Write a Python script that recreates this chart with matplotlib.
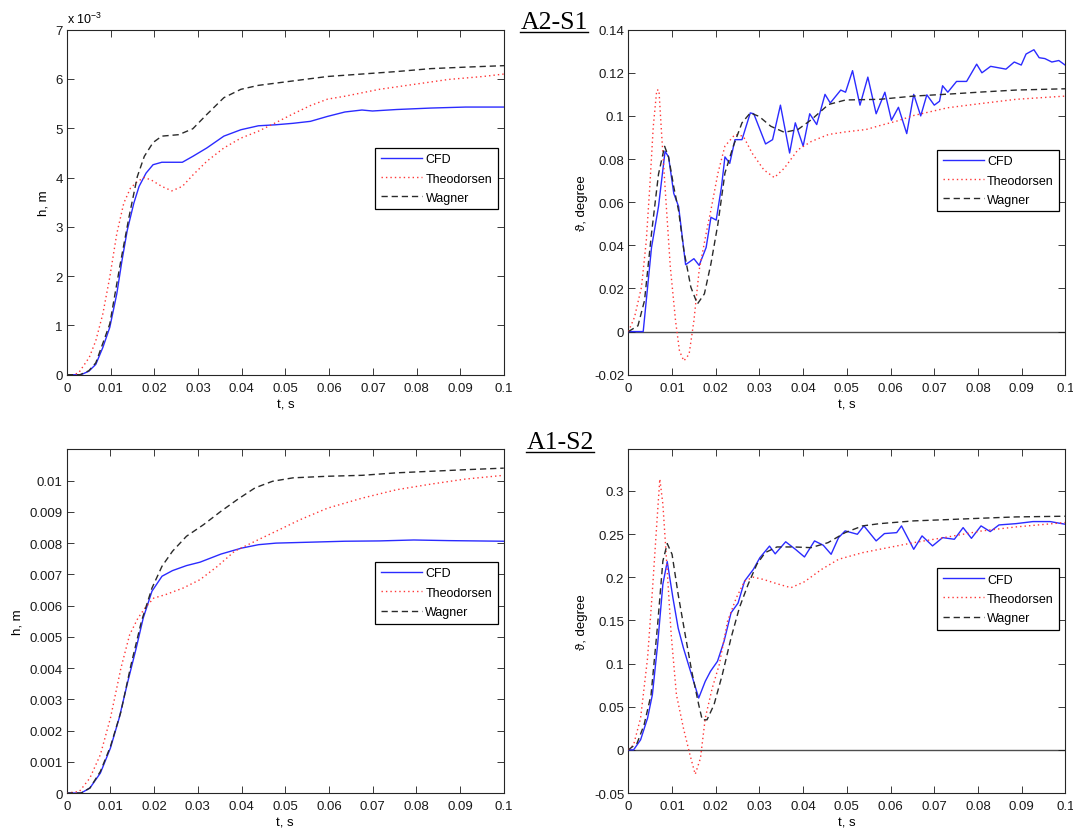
import numpy as np
import matplotlib
matplotlib.use("Agg")
import matplotlib.pyplot as plt
from matplotlib.lines import Line2D

plt.rcParams['font.family'] = ['Liberation Sans', 'DejaVu Sans']
plt.rcParams['mathtext.fontset'] = 'custom'
plt.rcParams['mathtext.rm'] = 'Liberation Sans'
plt.rcParams['mathtext.it'] = 'Liberation Sans:italic'

# ---------------- data ----------------
series_names = ['CFD', 'Theodorsen', 'Wagner']
xtick_vals = [0, 0.01, 0.02, 0.03, 0.04, 0.05, 0.06, 0.07, 0.08, 0.09, 0.1]
xtick_labels = ['0', '0.01', '0.02', '0.03', '0.04', '0.05', '0.06', '0.07', '0.08', '0.09', '0.1']

# A2-S1, heave h (m)
a2_h_cfd_t = [0, 0.0032, 0.005, 0.0066, 0.0082, 0.0098, 0.0114, 0.0126, 0.0138, 0.0153, 0.0165, 0.0181, 0.0197,
              0.0217, 0.024, 0.0264, 0.0288, 0.032, 0.0359, 0.0398, 0.0438, 0.0477, 0.0517, 0.0557, 0.0596,
              0.0636, 0.0675, 0.0699, 0.0754, 0.0833, 0.0912, 0.1]
a2_h_cfd = [0, 0, 0.00007, 0.00021, 0.00055, 0.00096, 0.00164, 0.00232, 0.00293, 0.00348, 0.00382, 0.00409, 0.00426,
            0.00431, 0.00431, 0.00431, 0.00443, 0.0046, 0.00484, 0.00497, 0.00505, 0.00507, 0.0051, 0.00514, 0.00524,
            0.00533, 0.00537, 0.00535, 0.00538, 0.00541, 0.00543, 0.00543]
a2_h_theo_t = [0, 0.0015, 0.0027, 0.0051, 0.0066, 0.0082, 0.0098, 0.0114, 0.013, 0.0145, 0.0161, 0.0177, 0.0193,
               0.0217, 0.024, 0.0264, 0.0288, 0.032, 0.0359, 0.0398, 0.0438, 0.0477, 0.0517, 0.0557, 0.0596,
               0.0636, 0.0715, 0.0794, 0.0873, 0.0952, 0.1]
a2_h_theo = [0, 0, 0.00004, 0.00035, 0.00069, 0.00123, 0.00198, 0.00286, 0.00348, 0.00378, 0.00392, 0.004, 0.00395,
             0.00382, 0.00373, 0.00382, 0.00405, 0.00433, 0.0046, 0.0048, 0.00494, 0.00511, 0.00529, 0.00546, 0.00559,
             0.00565, 0.00579, 0.00589, 0.00599, 0.00605, 0.0061]
a2_h_wag_t = [0, 0.003, 0.005, 0.0066, 0.0098, 0.0122, 0.0142, 0.0161, 0.0177, 0.0197, 0.0217, 0.0256, 0.0288, 0.032,
              0.0359, 0.0398, 0.0438, 0.0517, 0.0596, 0.0675, 0.0754, 0.0833, 0.0912, 0.1]
a2_h_wag = [0, 0, 0.00008, 0.00024, 0.00103, 0.00225, 0.0032, 0.00402, 0.00443, 0.00471, 0.00484, 0.00487, 0.00499,
            0.00528, 0.00562, 0.00579, 0.00587, 0.00596, 0.00605, 0.0061, 0.00615, 0.00621, 0.00624, 0.00627]

# A2-S1, pitch (degree)
a2_p_cfd_t = [0, 0.0034, 0.0053, 0.0069, 0.0084, 0.0092, 0.0104, 0.0115, 0.0131, 0.015, 0.0162, 0.0178, 0.0189,
              0.0201, 0.0213, 0.0221, 0.0232, 0.0244, 0.026, 0.0279, 0.0287, 0.0314, 0.033, 0.0348, 0.0369, 0.0382,
              0.04, 0.0415, 0.0431, 0.045, 0.0462, 0.0486, 0.0497, 0.0513, 0.053, 0.0548, 0.0567, 0.0587, 0.0602,
              0.0618, 0.0637, 0.0653, 0.0669, 0.0683, 0.07, 0.0712, 0.0719, 0.0731, 0.0751, 0.0774, 0.0797, 0.0809,
              0.0829, 0.0864, 0.0883, 0.0899, 0.091, 0.0928, 0.094, 0.0953, 0.0969, 0.0985, 0.1]
a2_p_cfd = [0, 0, 0.039, 0.058, 0.0836, 0.081, 0.064, 0.058, 0.031, 0.0338, 0.0307, 0.039, 0.053, 0.0517, 0.067,
            0.081, 0.078, 0.089, 0.089, 0.1014, 0.101, 0.087, 0.089, 0.105, 0.0828, 0.0968, 0.086, 0.101, 0.096,
            0.110, 0.106, 0.112, 0.111, 0.121, 0.105, 0.118, 0.101, 0.111, 0.098, 0.104, 0.0918, 0.110, 0.100,
            0.1098, 0.105, 0.1068, 0.114, 0.111, 0.116, 0.116, 0.124, 0.120, 0.123, 0.1217, 0.125, 0.1236, 0.1287,
            0.1307, 0.127, 0.1266, 0.125, 0.1257, 0.1235]
a2_p_theo_t = [0, 0.0014, 0.003, 0.0041, 0.0049, 0.0057, 0.0065, 0.007, 0.0076, 0.0084, 0.0096, 0.0108, 0.0117,
               0.0127, 0.0139, 0.015, 0.0162, 0.0178, 0.0189, 0.0205, 0.0221, 0.0244, 0.0263, 0.0283, 0.031, 0.0334,
               0.0357, 0.0388, 0.0419, 0.0458, 0.0497, 0.0544, 0.0575, 0.0614, 0.0653, 0.0731, 0.0809, 0.0887, 0.1]
a2_p_theo = [0, 0.0066, 0.0206, 0.042, 0.067, 0.095, 0.112, 0.112, 0.092, 0.067, 0.030, 0.005, -0.009, -0.0136,
             -0.0105, 0.005, 0.0284, 0.0455, 0.0564, 0.0735, 0.086, 0.0914, 0.0906, 0.0828, 0.075, 0.0714, 0.0758,
             0.0843, 0.0882, 0.0914, 0.0926, 0.0937, 0.0955, 0.0976, 0.1002, 0.1038, 0.1058, 0.1077, 0.1092]
a2_p_wag_t = [0, 0.0022, 0.0037, 0.0053, 0.0069, 0.0083, 0.0092, 0.0104, 0.0115, 0.0127, 0.0143, 0.0158, 0.0174,
              0.0189, 0.0205, 0.0221, 0.024, 0.026, 0.0279, 0.0299, 0.0326, 0.0357, 0.0388, 0.0419, 0.0458, 0.0497,
              0.0575, 0.0653, 0.0731, 0.0809, 0.0887, 0.1]
a2_p_wag = [0, 0.0027, 0.0144, 0.0455, 0.073, 0.0859, 0.081, 0.067, 0.056, 0.0377, 0.0206, 0.0128, 0.0175, 0.0315,
            0.050, 0.0735, 0.0859, 0.0968, 0.1014, 0.0998, 0.0952, 0.0924, 0.0937, 0.0983, 0.1053, 0.1074, 0.1077,
            0.1092, 0.1101, 0.1111, 0.112, 0.1126]

# A1-S2, heave h (m)
a1_h_cfd_t = [0, 0.0033, 0.0053, 0.0077, 0.01, 0.012, 0.014, 0.0159, 0.0175, 0.0195, 0.0218, 0.0242, 0.0274, 0.0305,
              0.0353, 0.04, 0.0439, 0.0479, 0.0558, 0.0636, 0.0715, 0.0794, 0.0873, 0.1]
a1_h_cfd = [0, 0, 0.00016, 0.00064, 0.00144, 0.0024, 0.00358, 0.00464, 0.0056, 0.00646, 0.00694, 0.00712, 0.00728,
            0.00739, 0.00765, 0.00784, 0.00795, 0.008, 0.00803, 0.00806, 0.00807, 0.0081, 0.00808, 0.00806]
a1_h_theo_t = [0, 0.0029, 0.0053, 0.0077, 0.01, 0.0124, 0.0144, 0.0163, 0.0179, 0.0199, 0.0226, 0.0266, 0.0305,
               0.0345, 0.0384, 0.0431, 0.0479, 0.0534, 0.0597, 0.0676, 0.0755, 0.0834, 0.0912, 0.1]
a1_h_theo = [0, 0.00005, 0.00048, 0.00123, 0.0024, 0.004, 0.00507, 0.0056, 0.00592, 0.00624, 0.00635, 0.00656,
             0.00683, 0.00726, 0.00774, 0.00806, 0.00838, 0.00875, 0.00912, 0.00944, 0.00971, 0.00989, 0.01005,
             0.01017]
a1_h_wag_t = [0, 0.0033, 0.0053, 0.0077, 0.01, 0.0124, 0.0147, 0.0171, 0.0195, 0.0218, 0.0242, 0.0274, 0.0313,
              0.0353, 0.0392, 0.0431, 0.0471, 0.0518, 0.0597, 0.0676, 0.0755, 0.0834, 0.0912, 0.1]
a1_h_wag = [0, 0, 0.00016, 0.00069, 0.00149, 0.0026, 0.0041, 0.0055, 0.00656, 0.00726, 0.00774, 0.00822, 0.00859,
            0.00902, 0.00941, 0.00977, 0.00998, 0.01009, 0.01014, 0.01017, 0.01025, 0.0103, 0.01035, 0.0104]

# A1-S2, pitch (degree)
a1_p_cfd_t = [0, 0.0012, 0.0028, 0.0044, 0.0055, 0.0067, 0.0079, 0.0089, 0.0102, 0.0114, 0.0126, 0.0141, 0.0161,
              0.0176, 0.0188, 0.0204, 0.0219, 0.0235, 0.0251, 0.0266, 0.0286, 0.0301, 0.0323, 0.0336, 0.036, 0.0383,
              0.0403, 0.0426, 0.0446, 0.0464, 0.0481, 0.0496, 0.0524, 0.0539, 0.0567, 0.0586, 0.0614, 0.0625, 0.0641,
              0.0653, 0.0672, 0.0696, 0.0719, 0.0746, 0.0766, 0.0785, 0.0807, 0.0828, 0.0848, 0.0887, 0.0926,
              0.0965, 0.1]
a1_p_cfd = [0, 0, 0.0116, 0.0368, 0.0639, 0.122, 0.192, 0.218, 0.176, 0.141, 0.118, 0.093, 0.060, 0.0794, 0.091,
            0.1026, 0.1258, 0.1587, 0.170, 0.1955, 0.209, 0.2226, 0.236, 0.227, 0.241, 0.232, 0.2234, 0.242, 0.237,
            0.2265, 0.2458, 0.2536, 0.2497, 0.2594, 0.242, 0.2505, 0.2516, 0.2594, 0.2439, 0.2323, 0.2478, 0.2362,
            0.2458, 0.2439, 0.2574, 0.245, 0.2594, 0.2528, 0.2605, 0.262, 0.2644, 0.2644, 0.2613]
a1_p_theo_t = [0, 0.0012, 0.0028, 0.0044, 0.0055, 0.0066, 0.0072, 0.0079, 0.0089, 0.0098, 0.011, 0.0126, 0.0141,
               0.0153, 0.0165, 0.0176, 0.0192, 0.0208, 0.0227, 0.0247, 0.0266, 0.0286, 0.0309, 0.034, 0.0372, 0.0403,
               0.0442, 0.0481, 0.0536, 0.0575, 0.0653, 0.0731, 0.0809, 0.0887, 0.1]
a1_p_theo = [0, 0.0058, 0.0368, 0.1065, 0.184, 0.269, 0.3136, 0.2846, 0.207, 0.1336, 0.0639, 0.0252, -0.0058,
             -0.0283, -0.0097, 0.0368, 0.0716, 0.0987, 0.149, 0.176, 0.1955, 0.2, 0.1974, 0.1924, 0.1878, 0.1947,
             0.209, 0.2207, 0.2284, 0.2323, 0.24, 0.2466, 0.2536, 0.2582, 0.2633]
a1_p_wag_t = [0, 0.002, 0.0036, 0.0052, 0.0067, 0.0079, 0.0089, 0.01, 0.0114, 0.013, 0.0145, 0.0161, 0.0169, 0.018,
              0.0196, 0.0215, 0.0235, 0.0254, 0.0274, 0.0294, 0.0313, 0.034, 0.0379, 0.0418, 0.0457, 0.0496, 0.0536,
              0.0575, 0.0653, 0.0731, 0.0809, 0.0887, 0.1]
a1_p_wag = [0, 0.0077, 0.029, 0.0639, 0.145, 0.2187, 0.2389, 0.2265, 0.18, 0.1336, 0.091, 0.0523, 0.0348, 0.0348,
            0.0523, 0.0871, 0.1297, 0.1645, 0.1916, 0.2149, 0.2284, 0.235, 0.235, 0.2342, 0.24, 0.2516, 0.2594,
            0.262, 0.2652, 0.2667, 0.2683, 0.2698, 0.2706]

tl_yticks = [0, 0.001, 0.002, 0.003, 0.004, 0.005, 0.006, 0.007]
tl_ylabels = ['0', '1', '2', '3', '4', '5', '6', '7']
tr_yticks = [-0.02, 0, 0.02, 0.04, 0.06, 0.08, 0.1, 0.12, 0.14]
tr_ylabels = ['-0.02', '0', '0.02', '0.04', '0.06', '0.08', '0.1', '0.12', '0.14']
bl_yticks = [0, 0.001, 0.002, 0.003, 0.004, 0.005, 0.006, 0.007, 0.008, 0.009, 0.01]
bl_ylabels = ['0', '0.001', '0.002', '0.003', '0.004', '0.005', '0.006', '0.007', '0.008', '0.009', '0.01']
br_yticks = [-0.05, 0, 0.05, 0.1, 0.15, 0.2, 0.25, 0.3]
br_ylabels = ['-0.05', '0', '0.05', '0.1', '0.15', '0.2', '0.25', '0.3']

# ---------------- figure ----------------
W, H = 1073, 829
fig = plt.figure(figsize=(W / 100, H / 100), dpi=100)

styles = [dict(color='#2b2bff', lw=1.0, ls='-'),
          dict(color='#ff3535', lw=1.0, ls=(0, (1, 2.2))),
          dict(color='#2a2a2a', lw=1.0, ls=(0, (4.5, 2.8)))]


def setup(ax, yticks, ylabels, ylim, ylabel, legend_top, zero_line=False):
    ax.set_xlim(0, 0.1)
    ax.set_ylim(*ylim)
    ax.set_xticks(xtick_vals)
    ax.set_xticklabels(xtick_labels)
    ax.set_yticks(yticks)
    ax.set_yticklabels(ylabels)
    ax.tick_params(direction='in', top=True, right=True, length=5, width=0.6,
                   labelsize=9.5, colors='#1a1a1a')
    ax.tick_params(axis='x', pad=5)
    ax.tick_params(axis='y', pad=3)
    for s in ax.spines.values():
        s.set_linewidth(0.8)
        s.set_color('#262626')
    ax.set_xlabel('t, s', fontsize=9.5, labelpad=3.5)
    ax.set_ylabel(ylabel, fontsize=9.5, labelpad=4)
    if zero_line:
        ax.axhline(0, color='#4d4d4d', lw=1.0, zorder=1)
    leg = ax.legend(loc='upper right', bbox_to_anchor=(0.986, legend_top), fontsize=9,
                    handlelength=3.3, handletextpad=0.25, borderpad=0.45, labelspacing=0.58,
                    fancybox=False, framealpha=1, edgecolor='black', borderaxespad=0)
    leg.get_frame().set_linewidth(0.9)


def draw(ax, tlist, ylist):
    for t, y, st, name in zip(tlist, ylist, styles, series_names):
        ax.plot(t, y, label=name, zorder=3, **st)


ax1 = fig.add_axes([0.0624, 0.5468, 0.4073, 0.4162])
draw(ax1, [a2_h_cfd_t, a2_h_theo_t, a2_h_wag_t], [a2_h_cfd, a2_h_theo, a2_h_wag])
setup(ax1, tl_yticks, tl_ylabels, (0, 0.007), 'h, m', 0.658)
ax1.text(0.0, 1.02, r'x 10$^{-3}$', transform=ax1.transAxes, ha='left', va='baseline', fontsize=9)

ax2 = fig.add_axes([0.5856, 0.5468, 0.4073, 0.4162])
draw(ax2, [a2_p_cfd_t, a2_p_theo_t, a2_p_wag_t], [a2_p_cfd, a2_p_theo, a2_p_wag])
setup(ax2, tr_yticks, tr_ylabels, (-0.02, 0.14), 'ϑ, degree', 0.652, zero_line=True)

ax3 = fig.add_axes([0.0622, 0.0422, 0.4073, 0.4145])
draw(ax3, [a1_h_cfd_t, a1_h_theo_t, a1_h_wag_t], [a1_h_cfd, a1_h_theo, a1_h_wag])
setup(ax3, bl_yticks, bl_ylabels, (0, 0.011), 'h, m', 0.673)

ax4 = fig.add_axes([0.5856, 0.0422, 0.4073, 0.4145])
draw(ax4, [a1_p_cfd_t, a1_p_theo_t, a1_p_wag_t], [a1_p_cfd, a1_p_theo, a1_p_wag])
setup(ax4, br_yticks, br_ylabels, (-0.05, 0.348), 'ϑ, degree', 0.655, zero_line=True)

# Titles with underline
titles = [('A2-S1', 554, 29.3), ('A1-S2', 560, 449.3)]
txts = []
for s, xc, yb in titles:
    t = fig.text(xc / W, 1 - yb / H, s, ha='center', va='baseline',
                 fontfamily='Liberation Serif', fontsize=18.5, color='black')
    txts.append((t, yb))
fig.canvas.draw()
r = fig.canvas.get_renderer()
for t, yb in txts:
    bb = t.get_window_extent(r)
    yl = 1 - (yb + 3.2) / H
    fig.add_artist(Line2D([bb.x0 / W, bb.x1 / W], [yl, yl], transform=fig.transFigure,
                          color='black', lw=1.0))

fig.savefig('out.png', dpi=100)
